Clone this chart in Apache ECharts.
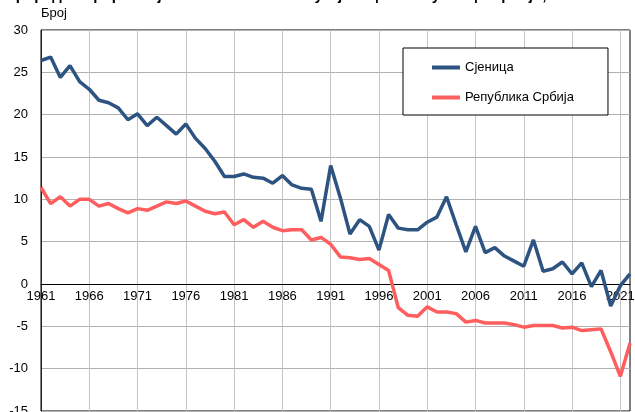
<!DOCTYPE html>
<html>
<head>
<meta charset="utf-8">
<script src="https://cdn.jsdelivr.net/npm/echarts@6/dist/echarts.min.js"></script>
<style>
    html, body { margin: 0; padding: 0; background: #fff; }
    #chart { width: 635px; height: 412px; }
</style>
</head>
<body>
<div id="chart"></div>
<script>
// године 1961-2022
let years = []
for (let y = 1961; y <= 2022; y++) years.push(String(y))

let sjenica = [
    26.4, 26.8, 24.4, 25.8, 23.9, 23.0, 21.7, 21.4, 20.8, 19.4,
    20.1, 18.7, 19.7, 18.7, 17.7, 18.9, 17.2, 16.0, 14.5, 12.7,
    12.7, 13.0, 12.6, 12.5, 11.9, 12.8, 11.7, 11.3, 11.2, 7.4,
    14.0, 10.2, 5.9, 7.6, 6.8, 4.0, 8.2, 6.6, 6.4, 6.4,
    7.3, 7.9, 10.3, 7.0, 3.8, 6.8, 3.7, 4.3, 3.3, 2.7,
    2.1, 5.2, 1.5, 1.8, 2.6, 1.2, 2.5, -0.3, 1.6, -2.6,
    -0.2, 1.2
]
let srbija = [
    11.4, 9.5, 10.3, 9.2, 10.0, 10.0, 9.2, 9.5, 8.9, 8.4,
    8.9, 8.7, 9.2, 9.7, 9.5, 9.8, 9.2, 8.6, 8.3, 8.5,
    7.0, 7.6, 6.7, 7.4, 6.7, 6.3, 6.4, 6.4, 5.2, 5.5,
    4.7, 3.2, 3.1, 2.9, 3.0, 2.3, 1.6, -2.8, -3.7, -3.8,
    -2.7, -3.3, -3.3, -3.5, -4.5, -4.3, -4.6, -4.6, -4.6, -4.8,
    -5.1, -4.9, -4.9, -4.9, -5.2, -5.1, -5.5, -5.4, -5.3, -8.0,
    -10.9, -7.0
]
let names = ['Сјеница', 'Република Србија']
let yMin = -15
let yMax = 30

let font = 'Liberation Sans, Arial, sans-serif'
let gridTop = 30
let gridBottom = 1
let plotH = 412 - gridTop - gridBottom
// x оса на нули
let zeroOffset = -Math.round(plotH * (0 - yMin) / (yMax - yMin))

let myChart = echarts.init(document.querySelector('#chart'))
let option = {
    animation: false,
    title: {
        text: 'Природни прираштај на 1000 становника у Сјеници и Републици Србији, 1961–2022.',
        left: 0,
        top: -17,
        textStyle: { fontSize: 15, fontWeight: 'bold', color: '#000', fontFamily: font }
    },
    grid: {
        left: 41,
        right: 5,
        top: gridTop,
        bottom: gridBottom,
        outerBoundsMode: 'none',
        show: true,
        borderColor: '#000',
        borderWidth: 1
    },
    legend: {
        data: names,
        orient: 'vertical',
        left: 403,
        top: 48,
        icon: 'rect',
        itemWidth: 28,
        itemHeight: 4,
        itemGap: 17,
        padding: [13, 34, 11, 29],
        borderColor: '#000',
        borderWidth: 1,
        backgroundColor: '#fff',
        textStyle: { fontSize: 13, color: '#000', fontFamily: font }
    },
    xAxis: {
        type: 'category',
        data: years,
        boundaryGap: false,
        offset: zeroOffset,
        axisLine: { onZero: false, lineStyle: { color: '#000', width: 1 } },
        axisTick: { show: false },
        axisLabel: { interval: 4, margin: 6, fontSize: 13, color: '#000', fontFamily: font },
        splitLine: { show: true, interval: 4, lineStyle: { color: '#c4c4c4', width: 1 } }
    },
    yAxis: {
        type: 'value',
        min: yMin,
        max: yMax,
        interval: 5,
        name: 'Број',
        nameLocation: 'end',
        nameGap: 10,
        nameTextStyle: { align: 'left', fontSize: 13, color: '#000', fontFamily: font },
        axisLine: { show: true, lineStyle: { color: '#222', width: 1 } },
        axisTick: { show: false },
        axisLabel: { margin: 13, fontSize: 13, color: '#000', fontFamily: font },
        splitLine: { lineStyle: { color: '#b0b0b0', width: 1 } }
    },
    series: [{
        name: names[0],
        type: 'line',
        data: sjenica,
        symbol: 'none',
        color: '#2d5381',
        lineStyle: { width: 3.5, color: '#2d5381' },
        z: 3
    }, {
        name: names[1],
        type: 'line',
        data: srbija,
        symbol: 'none',
        color: '#ff5e5e',
        lineStyle: { width: 3.5, color: '#ff5e5e' },
        z: 2
    }]
}
myChart.setOption(option)
</script>
</body>
</html>
